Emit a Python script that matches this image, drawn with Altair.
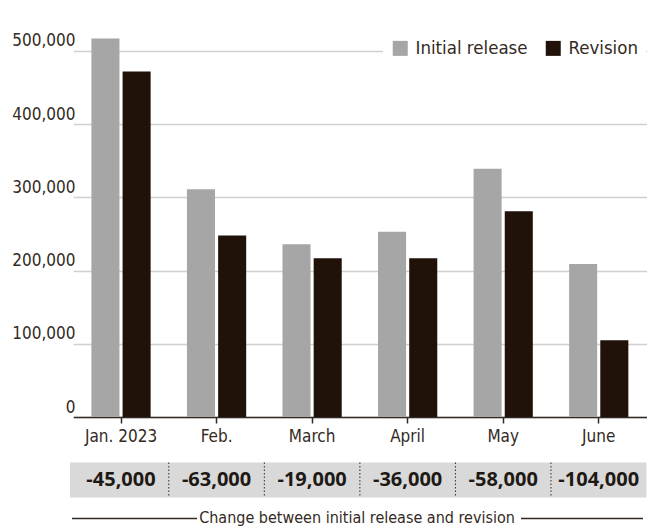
import altair as alt
import pandas as pd

months = ["Jan. 2023", "Feb.", "March", "April", "May", "June"]
initial = [517000, 311000, 236000, 253000, 339000, 209000]
revision = [472000, 248000, 217000, 217000, 281000, 105000]
changes = ["-45,000", "-63,000", "-19,000", "-36,000", "-58,000", "-104,000"]
series = ["Initial release", "Revision"]
y_ticks = [0, 100000, 200000, 300000, 400000, 500000]
caption = "Change between initial release and revision"

FONT = "DejaVu Sans Condensed, Roboto Condensed, Roboto"
TXT = "#332a24"
C_INIT = "#a6a6a6"
C_REV = "#201208"

rows = []
for m, a, b in zip(months, initial, revision):
    rows.append({"month": m, "series": series[0], "value": a})
    rows.append({"month": m, "series": series[1], "value": b})
bars_df = pd.DataFrame(rows)
tab_df = pd.DataFrame({"month": months, "change": changes})
sep_df = pd.DataFrame({"month": months[1:]})

W, H = 634, 388

xscale = alt.Scale(domain=months, range=[61.25, 634.5], paddingInner=0.38, paddingOuter=0.19)

bars = alt.Chart(bars_df).mark_bar().encode(
    x=alt.X("month:N", scale=xscale, sort=months, title=None,
            axis=alt.Axis(labelFont=FONT, labelFontSize=17, labelColor=TXT, labelAngle=0,
                          domainColor=TXT, domainWidth=1.5, tickColor=TXT, tickWidth=1.5,
                          tickSize=6, labelPadding=5, grid=False)),
    xOffset=alt.XOffset("series:N", sort=series, scale=alt.Scale(paddingInner=0.1, paddingOuter=0)),
    y=alt.Y("value:Q", scale=alt.Scale(domain=[0, 530000]), title=None,
            axis=alt.Axis(values=y_ticks, format=",.0f", grid=True, gridColor="#d0d0d0", gridWidth=1.3,
                          domain=False, ticks=False, tickSize=0, labelAlign="right",
                          labelPadding=-63, labelBaseline="alphabetic", labelOffset=-5,
                          labelFont=FONT, labelFontSize=17, labelColor=TXT)),
    color=alt.Color("series:N", sort=series,
                    scale=alt.Scale(domain=series, range=[C_INIT, C_REV]),
                    legend=alt.Legend(title=None, orient="none", legendX=371, legendY=2,
                                      direction="horizontal", symbolType="square", symbolSize=225,
                                      symbolStrokeWidth=0, symbolOpacity=1,
                                      labelFont=FONT, labelFontSize=18.5, labelColor=TXT,
                                      labelOffset=6, columnPadding=16, padding=8,
                                      fillColor="white")),
)

TAB_Y = 479 - 29
bg = alt.Chart(tab_df).mark_rect(color="#d9d9d9").encode(
    x=alt.value(58), x2=alt.value(634.5), y=alt.value(TAB_Y - 16.5), y2=alt.value(TAB_Y + 18.5)
).transform_filter(alt.datum.month == months[0])

seps = alt.Chart(sep_df).mark_rule(color=TXT, strokeDash=[1.5, 2], strokeWidth=1).encode(
    x=alt.X("month:N", scale=xscale, sort=months, bandPosition=0),
    xOffset=alt.value(-18.15),
    y=alt.value(TAB_Y - 16.5), y2=alt.value(TAB_Y + 18.5)
)

nums = alt.Chart(tab_df).mark_text(font="Open Sans", fontWeight="bold", fontSize=20,
                                   color="#1e1915", baseline="middle").encode(
    x=alt.X("month:N", scale=xscale, sort=months),
    y=alt.value(TAB_Y + 1),
    text="change:N",
)

CAP_Y = 518 - 29
cap = alt.Chart(tab_df).mark_text(font=FONT, fontSize=16, color=TXT, baseline="middle").encode(
    x=alt.value(345), y=alt.value(CAP_Y), text=alt.value(caption)
).transform_filter(alt.datum.month == months[0])

line_l = alt.Chart(tab_df).mark_rule(color=TXT, strokeWidth=1.3).encode(
    x=alt.value(60), x2=alt.value(185), y=alt.value(CAP_Y + 0.5)
).transform_filter(alt.datum.month == months[0])
line_r = alt.Chart(tab_df).mark_rule(color=TXT, strokeWidth=1.3).encode(
    x=alt.value(509), x2=alt.value(631), y=alt.value(CAP_Y + 0.5)
).transform_filter(alt.datum.month == months[0])

chart = alt.layer(bars, bg, seps, nums, cap, line_l, line_r).properties(
    width=W, height=H,
    background="white",
    autosize=alt.AutoSizeParams(type="none"),
    padding={"left": 12, "top": 29, "right": 15, "bottom": 110},
).configure_view(stroke="transparent", strokeWidth=0)

chart.save("out.html", embed_options={"renderer": "svg", "actions": False})
